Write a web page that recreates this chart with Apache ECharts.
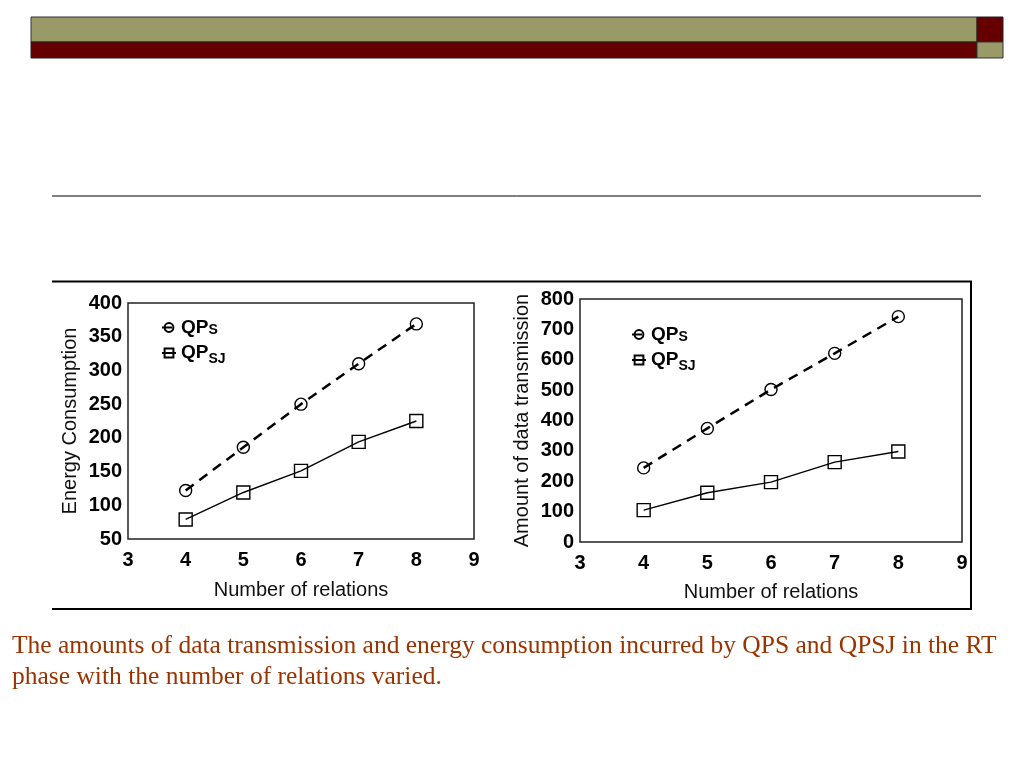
<!DOCTYPE html>
<html><head><meta charset="utf-8">
<script src="https://cdn.jsdelivr.net/npm/echarts@6/dist/echarts.min.js"></script>
<style>html,body{margin:0;padding:0;background:#fff}#c{width:1024px;height:768px}</style>
</head><body><div id="c"></div>
<script>
const xTicks = [3, 4, 5, 6, 7, 8, 9];
const relations = [4, 5, 6, 7, 8];
const energyQPS = [122, 186, 250, 310, 369];
const energyQPSJ = [79, 119, 151, 194, 225];
const transQPS = [244, 374, 502, 621, 742];
const transQPSJ = [105, 162, 197, 263, 298];
const caption = 'The amounts of data transmission and energy consumption incurred by QPS and QPSJ in the RT phase with the number of relations varied.';

const chart = echarts.init(document.getElementById('c'));
const pairs = (xs, ys) => xs.map((x, i) => [x, ys[i]]);
const labelFont = {color:'#000', fontFamily:'Liberation Sans', fontWeight:'bold', fontSize:20};
const nameFont = {color:'#111', fontFamily:'Liberation Sans', fontSize:20};
function xAxis(gi,gap){return {gridIndex:gi,type:'value',min:xTicks[0],max:xTicks[xTicks.length-1],interval:1,
  axisLine:{show:false},axisTick:{show:false},splitLine:{show:false},
  axisLabel:Object.assign({margin:11},labelFont),
  name:'Number of relations',nameLocation:'middle',nameGap:gap,nameTextStyle:nameFont};}
function yAxis(gi,min,max,interval,name,gap){return {gridIndex:gi,type:'value',min:min,max:max,interval:interval,
  axisLine:{show:false},axisTick:{show:false},splitLine:{show:false},
  axisLabel:Object.assign({margin:6},labelFont),
  name:name,nameLocation:'middle',nameGap:gap,nameTextStyle:nameFont};}
function dashed(gi,data){return {name:'QPS',type:'line',xAxisIndex:gi,yAxisIndex:gi,data:data,
  symbol:'circle',symbolSize:12,lineStyle:{color:'#000',width:2.5,type:[10,7]},
  itemStyle:{color:'rgba(255,255,255,0)',borderColor:'#000',borderWidth:1.4},z:3};}
function solid(gi,data){return {name:'QPSJ',type:'line',xAxisIndex:gi,yAxisIndex:gi,data:data,
  symbol:'rect',symbolSize:13,lineStyle:{color:'#000',width:1.4},
  itemStyle:{color:'rgba(255,255,255,0)',borderColor:'#000',borderWidth:1.4},z:3};}
const legendFmt = n => n === 'QPS' ? '{a|QP}{b|S}' : '{a|QP}{c|SJ}';
const legendRich = {a:{fontFamily:'Liberation Sans',fontWeight:'bold',fontSize:19,color:'#000'},
  b:{fontFamily:'Liberation Sans',fontWeight:'bold',fontSize:14,color:'#000',padding:[6,0,0,0]},
  c:{fontFamily:'Liberation Sans',fontWeight:'bold',fontSize:14,color:'#000',padding:[12,0,0,0]}};
function legend(left,top){return {left:left,top:top,orient:'vertical',itemWidth:14,itemHeight:11,itemGap:6,
  data:['QPS','QPSJ'],formatter:legendFmt,textStyle:{rich:legendRich},selectedMode:false};}

chart.setOption({
  animation:false,
  grid:[
    {left:128,top:303,width:346,height:236,show:true,borderColor:'#222',borderWidth:1.5,backgroundColor:'transparent'},
    {left:580,top:299,width:382,height:243,show:true,borderColor:'#222',borderWidth:1.5,backgroundColor:'transparent'}
  ],
  xAxis:[xAxis(0,41),xAxis(1,40)],
  yAxis:[yAxis(0,50,400,50,'Energy Consumption',48),yAxis(1,0,800,100,'Amount of data transmission',48)],
  legend:[legend(156,313),legend(626,320)],
  series:[dashed(0,pairs(relations,energyQPS)),solid(0,pairs(relations,energyQPSJ)),
          dashed(1,pairs(relations,transQPS)),solid(1,pairs(relations,transQPSJ))],
  graphic:[
    {type:'rect',shape:{x:31,y:17,width:946,height:25},style:{fill:'#9a9a68',stroke:'#333',lineWidth:1}},
    {type:'rect',shape:{x:31,y:42,width:946,height:16},style:{fill:'#660000',stroke:'#222',lineWidth:1}},
    {type:'rect',shape:{x:977,y:17,width:26,height:25},style:{fill:'#660000',stroke:'#222',lineWidth:1}},
    {type:'rect',shape:{x:977,y:42,width:26,height:16},style:{fill:'#9a9a68',stroke:'#333',lineWidth:1}},
    {type:'line',shape:{x1:52,y1:196,x2:981,y2:196},style:{stroke:'#000',lineWidth:1}},
    {type:'polyline',shape:{points:[[52,281.5],[971,281.5],[971,609],[52,609]]},style:{stroke:'#000',lineWidth:2,fill:null}},
    {type:'text',left:12,top:631,style:{text:caption,width:1005,overflow:'break',lineHeight:31,
      font:'25.5px "Liberation Serif"',fill:'#993300'}}
  ]
});
</script></body></html>
